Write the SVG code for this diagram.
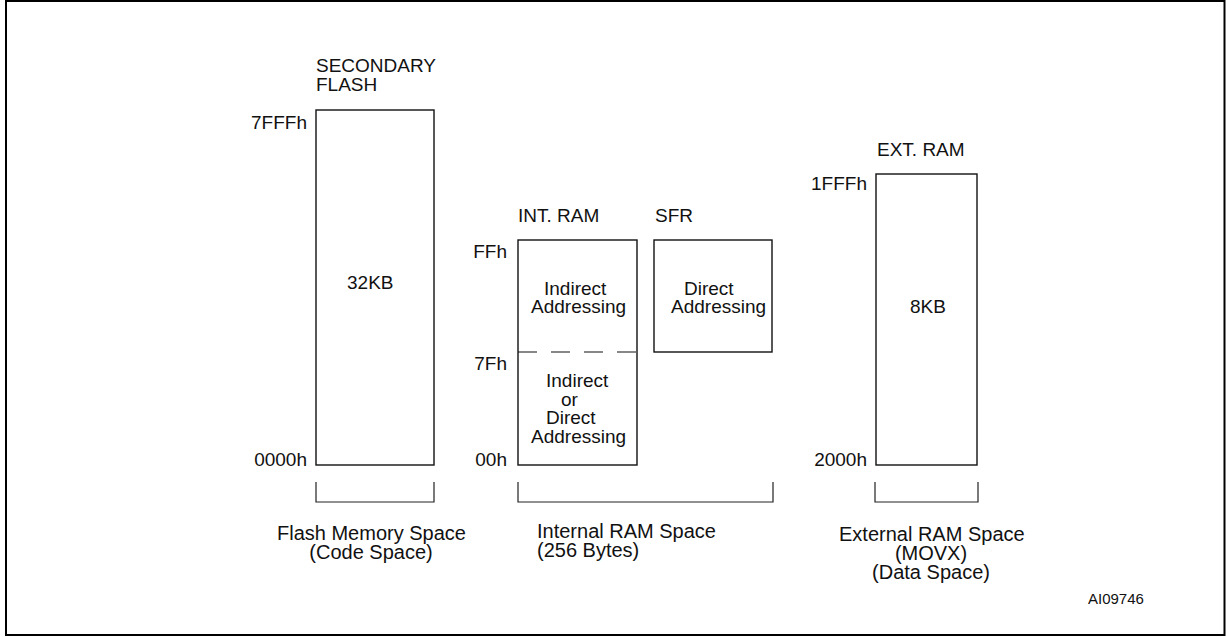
<svg xmlns="http://www.w3.org/2000/svg" width="1227" height="637" viewBox="0 0 1227 637">
<style>
text{font-family:"Liberation Sans",Arial,sans-serif;font-size:19px;fill:#111}
.box{fill:none;stroke:#111;stroke-width:1.4}
.br{fill:none;stroke:#222;stroke-width:1.2}
.lb{font-size:20px}
.r{text-anchor:end}
.m{text-anchor:middle}
</style>
<rect x="0" y="0" width="1227" height="637" fill="#fff"/>
<rect x="6" y="1" width="1218.5" height="634" fill="none" stroke="#000" stroke-width="2"/>
<g id="flash">
<text x="316" y="72">SECONDARY</text>
<text x="316" y="91">FLASH</text>
<text class="r" x="307" y="129">7FFFh</text>
<text class="r" x="307" y="466">0000h</text>
<rect class="box" x="316" y="110" width="118" height="355"/>
<text x="347" y="289">32KB</text>
</g>
<g id="intram">
<text x="518" y="222">INT. RAM</text>
<text class="r" x="507" y="258">FFh</text>
<text class="r" x="507" y="370">7Fh</text>
<text class="r" x="507" y="466">00h</text>
<rect class="box" x="518" y="240" width="119" height="225"/>
<line x1="518" y1="352" x2="639" y2="352" stroke="#111" stroke-width="1.2" stroke-dasharray="19 14"/>
<text x="544" y="295">Indirect</text>
<text x="531" y="313">Addressing</text>
<text x="546" y="387">Indirect</text>
<text x="561" y="405.5">or</text>
<text x="546" y="424">Direct</text>
<text x="531" y="442.5">Addressing</text>
</g>
<g id="sfr">
<text x="655" y="222">SFR</text>
<rect class="box" x="654" y="240" width="118" height="112"/>
<text x="684" y="295">Direct</text>
<text x="671" y="313">Addressing</text>
</g>
<g id="extram">
<text x="877" y="156">EXT. RAM</text>
<text class="r" x="867" y="190">1FFFh</text>
<text class="r" x="867" y="466">2000h</text>
<rect class="box" x="876" y="174" width="101" height="291"/>
<text x="910" y="313">8KB</text>
</g>
<g id="connectors">
<path class="br" d="M316,482V502H434V482"/>
<path class="br" d="M518,482V502H773V482"/>
<path class="br" d="M875,482V502H978V482"/>
</g>
<g id="labels">
<text class="lb" x="277" y="540">Flash Memory Space</text>
<text class="lb m" x="371" y="559">(Code Space)</text>
<text class="lb" x="537" y="538">Internal RAM Space</text>
<text class="lb" x="537" y="557">(256 Bytes)</text>
<text class="lb" x="839" y="541">External RAM Space</text>
<text class="lb m" x="931" y="560">(MOVX)</text>
<text class="lb m" x="931" y="579">(Data Space)</text>
<text x="1088" y="604" style="font-size:15px">AI09746</text>
</g>
</svg>
